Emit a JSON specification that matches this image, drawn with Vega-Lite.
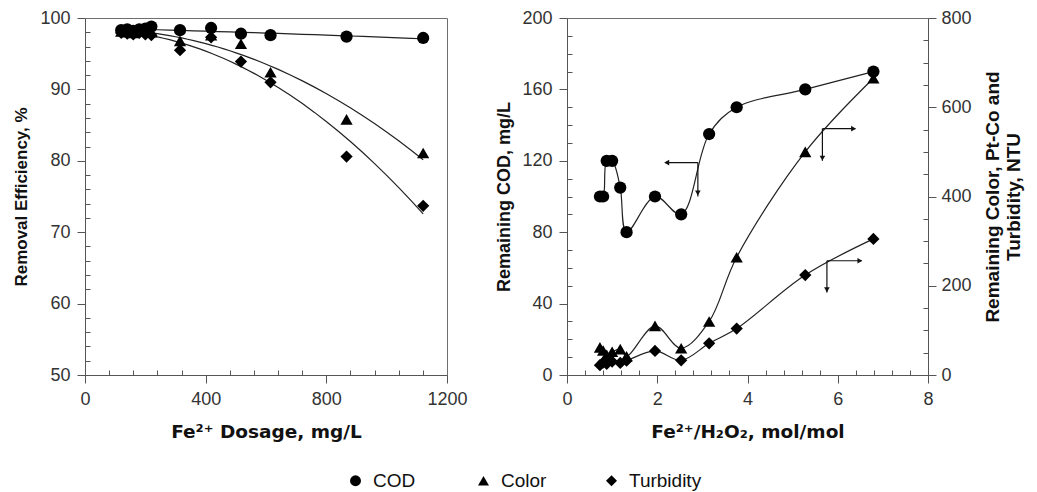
{
  "$schema": "https://vega.github.io/schema/vega-lite/v6.json",
  "padding": {"left": 12, "top": 8, "right": 6, "bottom": 4},
  "spacing": 120,
  "bounds": "flush",
  "config": {
    "font": "Liberation Sans",
    "view": {"stroke": "#6e6e6e", "strokeWidth": 1},
    "axis": {
      "grid": false,
      "domainColor": "#555555",
      "tickColor": "#555555",
      "tickSize": 8,
      "tickWidth": 1,
      "labelColor": "#333333",
      "labelFont": "Liberation Sans",
      "labelFontSize": 18,
      "labelPadding": 7,
      "labelFlush": false,
      "labelOverlap": false,
      "titleFont": "Liberation Sans",
      "titleFontSize": 17,
      "titleFontWeight": "bold",
      "titleColor": "#111111"
    },
    "axisBottom": {"titleFont": "DejaVu Sans", "titleFontSize": 18.5}
  },
  "datasets": {
    "dose": [
      {"series": "COD", "dose": 120, "efficiency": 98.3},
      {"series": "COD", "dose": 140, "efficiency": 98.4},
      {"series": "COD", "dose": 160, "efficiency": 98.2},
      {"series": "COD", "dose": 180, "efficiency": 98.4},
      {"series": "COD", "dose": 200, "efficiency": 98.5},
      {"series": "COD", "dose": 220, "efficiency": 98.8},
      {"series": "COD", "dose": 315, "efficiency": 98.3},
      {"series": "COD", "dose": 418, "efficiency": 98.6},
      {"series": "COD", "dose": 517, "efficiency": 97.8},
      {"series": "COD", "dose": 615, "efficiency": 97.6},
      {"series": "COD", "dose": 867, "efficiency": 97.4},
      {"series": "COD", "dose": 1121, "efficiency": 97.2},
      {"series": "Color", "dose": 120, "efficiency": 98.1},
      {"series": "Color", "dose": 140, "efficiency": 98.0},
      {"series": "Color", "dose": 160, "efficiency": 97.9},
      {"series": "Color", "dose": 180, "efficiency": 98.1},
      {"series": "Color", "dose": 200, "efficiency": 98.2},
      {"series": "Color", "dose": 220, "efficiency": 98.0},
      {"series": "Color", "dose": 315, "efficiency": 96.8},
      {"series": "Color", "dose": 418, "efficiency": 97.6},
      {"series": "Color", "dose": 517, "efficiency": 96.4},
      {"series": "Color", "dose": 615, "efficiency": 92.4},
      {"series": "Color", "dose": 867, "efficiency": 85.8},
      {"series": "Color", "dose": 1121, "efficiency": 81.1},
      {"series": "Turbidity", "dose": 120, "efficiency": 97.9},
      {"series": "Turbidity", "dose": 140, "efficiency": 97.8},
      {"series": "Turbidity", "dose": 160, "efficiency": 97.7},
      {"series": "Turbidity", "dose": 180, "efficiency": 97.9},
      {"series": "Turbidity", "dose": 200, "efficiency": 97.7},
      {"series": "Turbidity", "dose": 220, "efficiency": 97.6},
      {"series": "Turbidity", "dose": 315, "efficiency": 95.5},
      {"series": "Turbidity", "dose": 418, "efficiency": 97.3},
      {"series": "Turbidity", "dose": 517, "efficiency": 93.9},
      {"series": "Turbidity", "dose": 615, "efficiency": 91.0},
      {"series": "Turbidity", "dose": 867, "efficiency": 80.6},
      {"series": "Turbidity", "dose": 1121, "efficiency": 73.7}
    ],
    "ratio": [
      {"series": "COD", "ratio": 0.73, "value": 100},
      {"series": "COD", "ratio": 0.8, "value": 100},
      {"series": "COD", "ratio": 0.88, "value": 120},
      {"series": "COD", "ratio": 1.0, "value": 120},
      {"series": "COD", "ratio": 1.18, "value": 105},
      {"series": "COD", "ratio": 1.32, "value": 80},
      {"series": "COD", "ratio": 1.95, "value": 100},
      {"series": "COD", "ratio": 2.53, "value": 90},
      {"series": "COD", "ratio": 3.15, "value": 135},
      {"series": "COD", "ratio": 3.76, "value": 150},
      {"series": "COD", "ratio": 5.28, "value": 160},
      {"series": "COD", "ratio": 6.79, "value": 170},
      {"series": "Color", "ratio": 0.73, "value": 62},
      {"series": "Color", "ratio": 0.8, "value": 55},
      {"series": "Color", "ratio": 0.88, "value": 45},
      {"series": "Color", "ratio": 1.0, "value": 52},
      {"series": "Color", "ratio": 1.18, "value": 58},
      {"series": "Color", "ratio": 1.32, "value": 42},
      {"series": "Color", "ratio": 1.95, "value": 110},
      {"series": "Color", "ratio": 2.53, "value": 60},
      {"series": "Color", "ratio": 3.15, "value": 120},
      {"series": "Color", "ratio": 3.76, "value": 264},
      {"series": "Color", "ratio": 5.28, "value": 500},
      {"series": "Color", "ratio": 6.79, "value": 665},
      {"series": "Turbidity", "ratio": 0.73, "value": 22},
      {"series": "Turbidity", "ratio": 0.8, "value": 28},
      {"series": "Turbidity", "ratio": 0.88, "value": 25},
      {"series": "Turbidity", "ratio": 1.0, "value": 30},
      {"series": "Turbidity", "ratio": 1.18, "value": 27},
      {"series": "Turbidity", "ratio": 1.32, "value": 32},
      {"series": "Turbidity", "ratio": 1.95, "value": 54},
      {"series": "Turbidity", "ratio": 2.53, "value": 33},
      {"series": "Turbidity", "ratio": 3.15, "value": 71},
      {"series": "Turbidity", "ratio": 3.76, "value": 104},
      {"series": "Turbidity", "ratio": 5.28, "value": 224},
      {"series": "Turbidity", "ratio": 6.79, "value": 305}
    ],
    "arrows": [
      {"target": "COD", "ratio": 2.9, "value": 119, "ratio_end": 2.17, "value_end": 119},
      {"target": "COD", "ratio": 2.9, "value": 119, "ratio_end": 2.9, "value_end": 100},
      {"target": "Color", "ratio": 5.66, "value": 552, "ratio_end": 6.39, "value_end": 552},
      {"target": "Color", "ratio": 5.66, "value": 552, "ratio_end": 5.66, "value_end": 480},
      {"target": "Turbidity", "ratio": 5.76, "value": 256, "ratio_end": 6.53, "value_end": 256},
      {"target": "Turbidity", "ratio": 5.76, "value": 256, "ratio_end": 5.76, "value_end": 185}
    ],
    "heads": [
      {"target": "COD", "ratio": 2.21, "value": 119, "dir": "left"},
      {"target": "COD", "ratio": 2.9, "value": 102, "dir": "down"},
      {"target": "Color", "ratio": 6.35, "value": 552, "dir": "right"},
      {"target": "Color", "ratio": 5.66, "value": 486, "dir": "down"},
      {"target": "Turbidity", "ratio": 6.49, "value": 256, "dir": "right"},
      {"target": "Turbidity", "ratio": 5.76, "value": 191, "dir": "down"}
    ]
  },
  "hconcat": [
    {
      "width": 362,
      "height": 357,
      "data": {"name": "dose"},
      "encoding": {
        "x": {
          "field": "dose",
          "type": "quantitative",
          "scale": {"domain": [0, 1200], "nice": false},
          "axis": {
            "title": "Fe²⁺ Dosage, mg/L",
            "titlePadding": 14,
            "values": [0, 80, 160, 240, 320, 400, 480, 560, 640, 720, 800, 880, 960, 1040, 1120, 1200],
            "labelExpr": "datum.value % 400 === 0 ? toString(datum.value) : ''",
            "encoding": {"ticks": {"y2": {"condition": {"test": "datum.value % 400 !== 0", "value": -5}, "value": 8}}}
          }
        },
        "y": {
          "field": "efficiency",
          "type": "quantitative",
          "scale": {"domain": [50, 100], "nice": false, "zero": false},
          "axis": {
            "title": "Removal Efficiency, %",
            "titlePadding": 9,
            "values": [50, 52, 54, 56, 58, 60, 62, 64, 66, 68, 70, 72, 74, 76, 78, 80, 82, 84, 86, 88, 90, 92, 94, 96, 98, 100],
            "labelExpr": "datum.value % 10 === 0 ? toString(datum.value) : ''",
            "encoding": {"ticks": {"x2": {"condition": {"test": "datum.value % 10 !== 0", "value": 5}, "value": -8}}}
          }
        }
      },
      "layer": [
        {
          "transform": [
            {"regression": "efficiency", "on": "dose", "groupby": ["series"], "method": "poly", "order": 2}
          ],
          "mark": {"type": "line", "color": "#222222", "strokeWidth": 1.2},
          "encoding": {"detail": {"field": "series", "type": "nominal"}}
        },
        {
          "mark": {"type": "point", "filled": true, "color": "#000000", "opacity": 1, "size": 150},
          "encoding": {
            "shape": {
              "field": "series",
              "type": "nominal",
              "scale": {"domain": ["COD", "Color", "Turbidity"], "range": ["circle", "triangle-up", "diamond"]},
              "legend": {
                "title": null,
                "orient": "none",
                "direction": "horizontal",
                "legendX": 261,
                "legendY": 453,
                "padding": 0,
                "gridAlign": "all",
                "symbolSize": 120,
                "symbolFillColor": "#000000",
                "symbolStrokeColor": "#000000",
                "symbolStrokeWidth": 0,
                "labelFont": "Liberation Sans",
                "labelFontSize": 19,
                "labelColor": "#111111",
                "labelOffset": 8,
                "columnPadding": 28
              }
            }
          }
        }
      ]
    },
    {
      "width": 361,
      "height": 357,
      "encoding": {
        "x": {
          "field": "ratio",
          "type": "quantitative",
          "scale": {"domain": [0, 8], "nice": false},
          "axis": {
            "title": "Fe²⁺/H₂O₂, mol/mol",
            "titlePadding": 14,
            "values": [0, 0.4, 0.8, 1.2, 1.6, 2, 2.4, 2.8, 3.2, 3.6, 4, 4.4, 4.8, 5.2, 5.6, 6, 6.4, 6.8, 7.2, 7.6, 8],
            "labelExpr": "abs(datum.value / 2 - round(datum.value / 2)) < 0.01 ? toString(round(datum.value)) : ''",
            "encoding": {"ticks": {"y2": {"condition": {"test": "abs(datum.value / 2 - round(datum.value / 2)) > 0.01", "value": -5}, "value": 8}}}
          }
        }
      },
      "layer": [
        {
          "encoding": {
            "y": {
              "field": "value",
              "type": "quantitative",
              "scale": {"domain": [0, 200], "nice": false},
              "axis": {
                "title": "Remaining COD, mg/L",
                "titleFontSize": 18,
                "titlePadding": 8,
                "values": [0, 10, 20, 30, 40, 50, 60, 70, 80, 90, 100, 110, 120, 130, 140, 150, 160, 170, 180, 190, 200],
                "labelExpr": "datum.value % 40 === 0 ? toString(datum.value) : ''",
                "encoding": {"ticks": {"x2": {"condition": {"test": "datum.value % 40 !== 0", "value": 5}, "value": -8}}}
              }
            }
          },
          "layer": [
            {
              "data": {"name": "ratio"},
              "transform": [{"filter": "datum.series === 'COD'"}],
              "mark": {"type": "line", "interpolate": "catmull-rom", "color": "#222222", "strokeWidth": 1.2}
            },
            {
              "data": {"name": "ratio"},
              "transform": [{"filter": "datum.series === 'COD'"}],
              "mark": {"type": "point", "filled": true, "color": "#000000", "opacity": 1, "size": 150},
              "encoding": {
                "shape": {
                  "field": "series",
                  "type": "nominal",
                  "scale": {"domain": ["COD", "Color", "Turbidity"], "range": ["circle", "triangle-up", "diamond"]},
                  "legend": null
                }
              }
            },
            {
              "data": {"name": "arrows"},
              "transform": [{"filter": "datum.target === 'COD'"}],
              "mark": {"type": "rule", "color": "#111111", "strokeWidth": 1.2},
              "encoding": {
                "x2": {"field": "ratio_end"},
                "y2": {"field": "value_end"}
              }
            },
            {
              "data": {"name": "heads"},
              "transform": [{"filter": "datum.target === 'COD'"}],
              "layer": [
                {
                  "transform": [{"filter": "datum.dir === 'left'"}],
                  "mark": {"type": "point", "shape": "triangle-left", "filled": true, "color": "#111111", "opacity": 1, "size": 32}
                },
                {
                  "transform": [{"filter": "datum.dir === 'down'"}],
                  "mark": {"type": "point", "shape": "triangle-down", "filled": true, "color": "#111111", "opacity": 1, "size": 32}
                }
              ]
            }
          ]
        },
        {
          "encoding": {
            "y": {
              "field": "value",
              "type": "quantitative",
              "scale": {"domain": [0, 800], "nice": false},
              "axis": {
                "orient": "right",
                "title": ["Remaining Color, Pt-Co and", "Turbidity, NTU"],
                "titleAngle": 270,
                "titleFontSize": 19,
                "titlePadding": 10,
                "labelPadding": 5,
                "values": [0, 50, 100, 150, 200, 250, 300, 350, 400, 450, 500, 550, 600, 650, 700, 750, 800],
                "labelExpr": "datum.value % 200 === 0 ? toString(datum.value) : ''",
                "encoding": {"ticks": {"x2": {"condition": {"test": "datum.value % 200 !== 0", "value": -5}, "value": 8}}}
              }
            }
          },
          "layer": [
            {
              "data": {"name": "ratio"},
              "transform": [{"filter": "datum.series !== 'COD'"}],
              "mark": {"type": "line", "interpolate": "catmull-rom", "color": "#222222", "strokeWidth": 1.2},
              "encoding": {"detail": {"field": "series", "type": "nominal"}}
            },
            {
              "data": {"name": "ratio"},
              "transform": [{"filter": "datum.series !== 'COD'"}],
              "mark": {"type": "point", "filled": true, "color": "#000000", "opacity": 1, "size": 150},
              "encoding": {
                "shape": {
                  "field": "series",
                  "type": "nominal",
                  "scale": {"domain": ["COD", "Color", "Turbidity"], "range": ["circle", "triangle-up", "diamond"]},
                  "legend": null
                }
              }
            },
            {
              "data": {"name": "arrows"},
              "transform": [{"filter": "datum.target !== 'COD'"}],
              "mark": {"type": "rule", "color": "#111111", "strokeWidth": 1.2},
              "encoding": {
                "x2": {"field": "ratio_end"},
                "y2": {"field": "value_end"}
              }
            },
            {
              "data": {"name": "heads"},
              "transform": [{"filter": "datum.target !== 'COD'"}],
              "layer": [
                {
                  "transform": [{"filter": "datum.dir === 'right'"}],
                  "mark": {"type": "point", "shape": "triangle-right", "filled": true, "color": "#111111", "opacity": 1, "size": 32}
                },
                {
                  "transform": [{"filter": "datum.dir === 'down'"}],
                  "mark": {"type": "point", "shape": "triangle-down", "filled": true, "color": "#111111", "opacity": 1, "size": 32}
                }
              ]
            }
          ]
        }
      ],
      "resolve": {"scale": {"y": "independent"}}
    }
  ]
}
